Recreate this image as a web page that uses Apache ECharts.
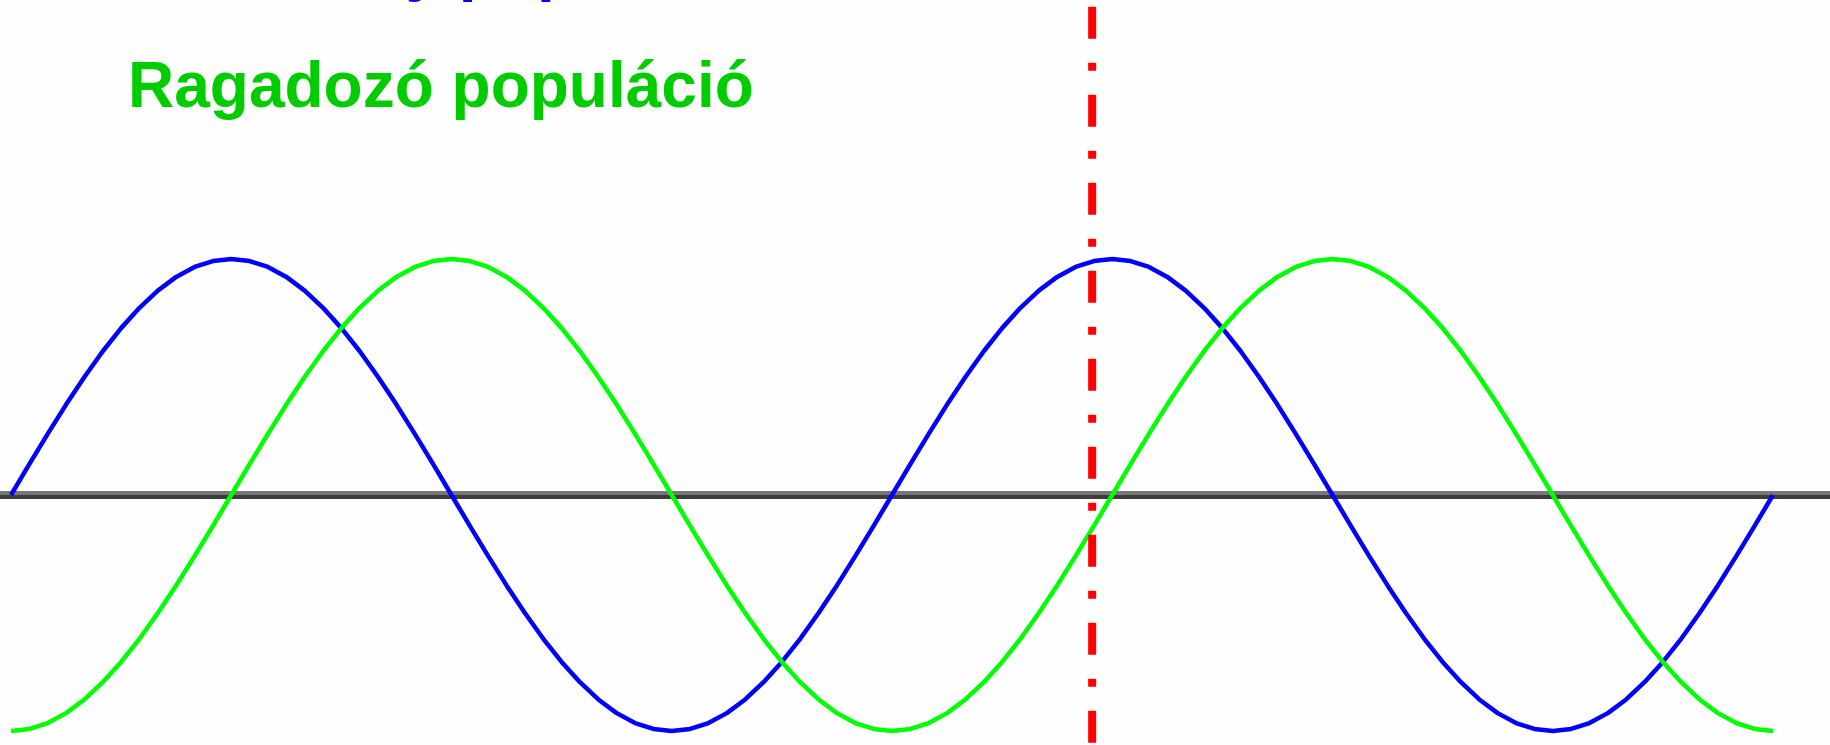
<!DOCTYPE html>
<html>
<head>
<meta charset="utf-8">
<title>Zsákmány és ragadozó</title>
<script src="https://cdn.jsdelivr.net/npm/echarts@6/dist/echarts.min.js"></script>
<style>
  html, body { margin: 0; padding: 0; background: #fefefe; }
  #chart { width: 1830px; height: 745px; }
</style>
</head>
<body>
<div id="chart"></div>
<script>
// fázis (fok) – két teljes periódus, 7.5 fokonként
const phase = [
  0, 7.5, 15, 22.5, 30, 37.5, 45, 52.5, 60, 67.5, 75, 82.5,
  90, 97.5, 105, 112.5, 120, 127.5, 135, 142.5, 150, 157.5, 165, 172.5,
  180, 187.5, 195, 202.5, 210, 217.5, 225, 232.5, 240, 247.5, 255, 262.5,
  270, 277.5, 285, 292.5, 300, 307.5, 315, 322.5, 330, 337.5, 345, 352.5,
  360, 367.5, 375, 382.5, 390, 397.5, 405, 412.5, 420, 427.5, 435, 442.5,
  450, 457.5, 465, 472.5, 480, 487.5, 495, 502.5, 510, 517.5, 525, 532.5,
  540, 547.5, 555, 562.5, 570, 577.5, 585, 592.5, 600, 607.5, 615, 622.5,
  630, 637.5, 645, 652.5, 660, 667.5, 675, 682.5, 690, 697.5, 705, 712.5,
  720
];
// zsákmány (kék)
const prey = [
  0, 0.131, 0.259, 0.383, 0.5, 0.609, 0.707, 0.793, 0.866, 0.924, 0.966, 0.991,
  1, 0.991, 0.966, 0.924, 0.866, 0.793, 0.707, 0.609, 0.5, 0.383, 0.259, 0.131,
  0, -0.131, -0.259, -0.383, -0.5, -0.609, -0.707, -0.793, -0.866, -0.924, -0.966, -0.991,
  -1, -0.991, -0.966, -0.924, -0.866, -0.793, -0.707, -0.609, -0.5, -0.383, -0.259, -0.131,
  0, 0.131, 0.259, 0.383, 0.5, 0.609, 0.707, 0.793, 0.866, 0.924, 0.966, 0.991,
  1, 0.991, 0.966, 0.924, 0.866, 0.793, 0.707, 0.609, 0.5, 0.383, 0.259, 0.131,
  0, -0.131, -0.259, -0.383, -0.5, -0.609, -0.707, -0.793, -0.866, -0.924, -0.966, -0.991,
  -1, -0.991, -0.966, -0.924, -0.866, -0.793, -0.707, -0.609, -0.5, -0.383, -0.259, -0.131,
  0
];
// ragadozó (zöld)
const predator = [
  -1, -0.991, -0.966, -0.924, -0.866, -0.793, -0.707, -0.609, -0.5, -0.383, -0.259, -0.131,
  0, 0.131, 0.259, 0.383, 0.5, 0.609, 0.707, 0.793, 0.866, 0.924, 0.966, 0.991,
  1, 0.991, 0.966, 0.924, 0.866, 0.793, 0.707, 0.609, 0.5, 0.383, 0.259, 0.131,
  0, -0.131, -0.259, -0.383, -0.5, -0.609, -0.707, -0.793, -0.866, -0.924, -0.966, -0.991,
  -1, -0.991, -0.966, -0.924, -0.866, -0.793, -0.707, -0.609, -0.5, -0.383, -0.259, -0.131,
  0, 0.131, 0.259, 0.383, 0.5, 0.609, 0.707, 0.793, 0.866, 0.924, 0.966, 0.991,
  1, 0.991, 0.966, 0.924, 0.866, 0.793, 0.707, 0.609, 0.5, 0.383, 0.259, 0.131,
  0, -0.131, -0.259, -0.383, -0.5, -0.609, -0.707, -0.793, -0.866, -0.924, -0.966, -0.991,
  -1
];
// függőleges jelölő
const markerPhase = 441.8;
const markerRange = [2.068, -1.051];

const labels = ['Zsákmány populáció', 'Ragadozó populáció'];

const chart = echarts.init(document.getElementById('chart'));

const option = {
  animation: false,
  backgroundColor: '#fefefe',
  title: [
    {
      text: labels[0], left: 128, top: -61, padding: 0,
      textStyle: {fontFamily: 'Liberation Sans', fontWeight: 'bold', fontSize: 64, color: '#0000ff'}
    },
    {
      text: labels[1], left: 128, top: 57, padding: 0,
      textStyle: {fontFamily: 'Liberation Sans', fontWeight: 'bold', fontSize: 64, color: '#00cc00'}
    }
  ],
  grid: {left: 0, right: 0, top: 0, bottom: 0},
  xAxis: {
    type: 'value',
    min: -4.495,
    max: 743.3,
    axisLabel: {show: false},
    axisTick: {show: false},
    splitLine: {show: false},
    axisLine: {
      onZero: true,
      lineStyle: {
        width: 8,
        // felül világosabb, alul sötétebb sáv
        color: {
          type: 'linear', x: 0, y: 491, x2: 0, y2: 499, global: true,
          colorStops: [
            {offset: 0, color: '#777777'}, {offset: 0.5, color: '#777777'},
            {offset: 0.5, color: '#3c3c3c'}, {offset: 1, color: '#3c3c3c'}
          ]
        }
      }
    }
  },
  yAxis: {
    type: 'value',
    min: -1.059,
    max: 2.097,
    show: false
  },
  series: [
    {
      name: labels[0],
      type: 'line',
      symbol: 'none',
      lineStyle: {color: '#0000ff', width: 4.5},
      data: phase.map((p, i) => [p, prey[i]])
    },
    {
      name: labels[1],
      type: 'line',
      symbol: 'none',
      lineStyle: {color: '#00ff00', width: 4.5},
      data: phase.map((p, i) => [p, predator[i]])
    },
    {
      type: 'line',
      symbol: 'none',
      lineStyle: {color: '#ff0000', width: 8, type: [32, 24, 8, 24], cap: 'butt'},
      data: markerRange.map(v => [markerPhase, v])
    }
  ]
};
chart.setOption(option);
</script>
</body>
</html>
